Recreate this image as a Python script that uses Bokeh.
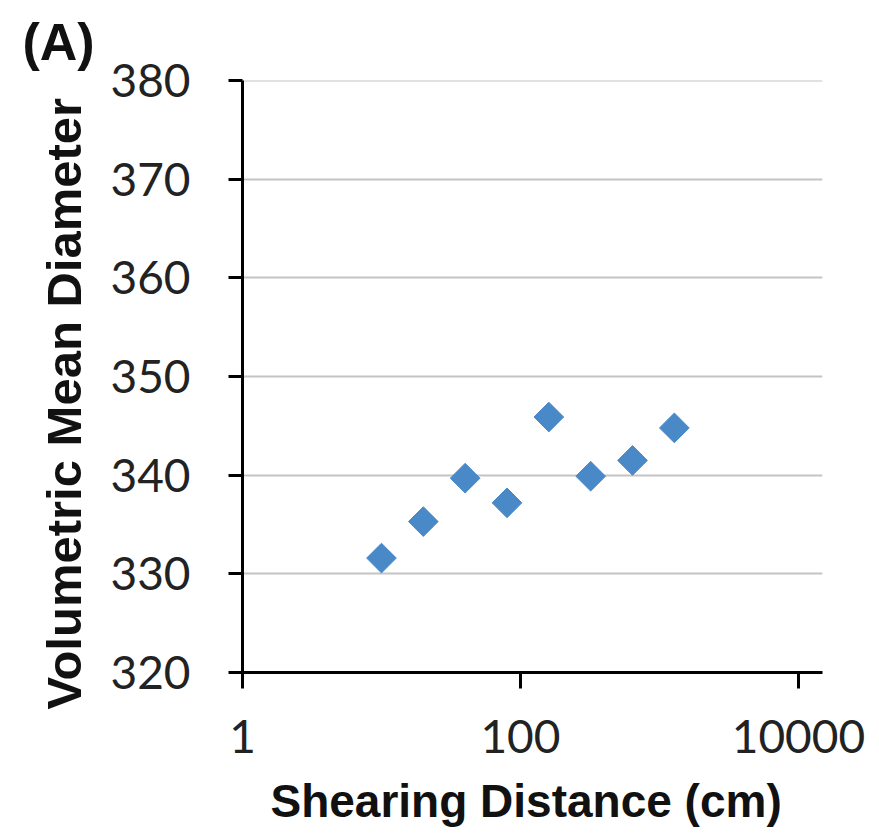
import numpy as np
from bokeh.plotting import figure
from bokeh.models import FixedTicker, Range1d, ColumnDataSource
from bokeh.embed import file_html
from bokeh.resources import INLINE

# Shearing distance (cm) and volumetric mean diameter
shearing_distance = [10, 20, 40, 80, 160, 320, 640, 1280]
mean_diameter = [331.6, 335.3, 339.7, 337.2, 345.9, 339.9, 341.5, 344.8]

x_ticks = [1, 100, 10000]
x_tick_labels = ["1", "100", "10000"]
y_ticks = [320, 330, 340, 350, 360, 370, 380]

src = ColumnDataSource(data=dict(x=shearing_distance, y=mean_diameter))

p = figure(
    width=879, height=834,
    x_axis_type="log",
    x_range=Range1d(1, 14900), y_range=Range1d(320, 380.02),
    output_backend="svg", toolbar_location=None,
    min_border_left=242, min_border_right=57,
    min_border_top=80, min_border_bottom=162,
)
p.outline_line_color = None
p.background_fill_color = "white"
p.border_fill_color = "white"

# panel tag in the top-left corner
p.title.text = "(A)"
p.title.align = "left"
p.title.offset = -220
p.title.text_font = "Liberation Sans"
p.title.text_font_style = "bold"
p.title.text_font_size = "52px"
p.title.text_color = "#111111"
p.title.text_line_height = 0.7
p.title.standoff = 20

p.scatter("x", "y", source=src, marker="square", angle=np.pi / 4,
          size=21, fill_color="#4A89C8", line_color="#4A89C8")

# grid: horizontal lines only
p.xgrid.grid_line_color = None
p.ygrid.grid_line_color = "#c4c4c4"
p.ygrid.grid_line_width = 2
p.ygrid.ticker = FixedTicker(ticks=y_ticks[1:])

tick_font = "Lato"
label_font = "Liberation Sans"

xa = p.xaxis[0]
xa.ticker = FixedTicker(ticks=x_ticks)
xa.major_label_overrides = {t: s for t, s in zip(x_ticks, x_tick_labels)}
xa.minor_tick_line_color = None
xa.major_tick_in = 0
xa.major_tick_out = 16
xa.major_tick_line_width = 3
xa.axis_line_width = 3
xa.axis_line_color = "black"
xa.major_tick_line_color = "black"
xa.major_label_text_font = tick_font
xa.major_label_text_font_size = "46px"
xa.major_label_text_color = "#222222"
xa.major_label_standoff = 31
xa.axis_label = "Shearing Distance (cm)\u00a0"
xa.axis_label_text_font = label_font
xa.axis_label_text_font_style = "bold"
xa.axis_label_text_font_size = "46px"
xa.axis_label_text_color = "#111111"
xa.axis_label_standoff = 19

ya = p.yaxis[0]
ya.ticker = FixedTicker(ticks=y_ticks)
ya.minor_tick_line_color = None
ya.major_tick_in = 0
ya.major_tick_out = 14
ya.major_tick_line_width = 3
ya.axis_line_width = 3
ya.axis_line_color = "black"
ya.major_tick_line_color = "black"
ya.major_label_text_font = tick_font
ya.major_label_text_font_size = "46px"
ya.major_label_text_color = "#222222"
ya.major_label_standoff = 38
ya.axis_label = "Volumetric Mean Diameter" + "\u00a0" * 4
ya.axis_label_text_font = label_font
ya.axis_label_text_font_style = "bold"
ya.axis_label_text_font_size = "49px"
ya.axis_label_text_color = "#111111"
ya.axis_label_standoff = 16

open("out.html", "w").write(file_html(p, INLINE))
